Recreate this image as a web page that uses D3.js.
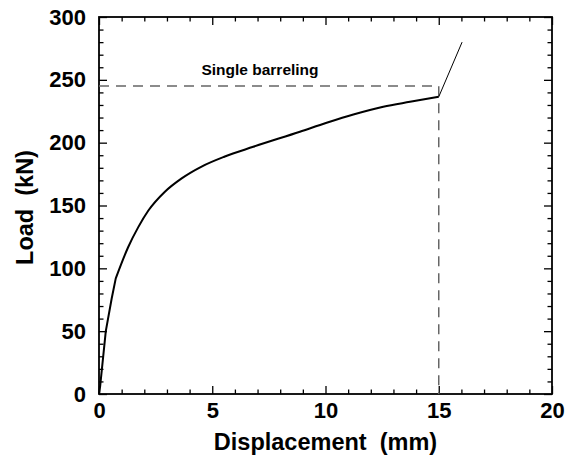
<!DOCTYPE html>
<html>
<head>
<meta charset="utf-8">
<script src="https://cdn.jsdelivr.net/npm/d3@7"></script>
<style>
  body { margin: 0; background: white; }
  text { font-family: "Liberation Sans", Arial, sans-serif; font-weight: bold; fill: black; }
</style>
</head>
<body>
<div id="chart"></div>
<script>
let width = 577, height = 463;

let margin = { top: 17, bottom: 69, left: 99, right: 25 };

// curve (mm, kN)
let displacement = [0, 0.05, 0.3, 0.56, 0.74, 1.29, 1.74, 2.18, 2.91, 3.65, 4.53, 5.53, 6.81, 8.87, 10.05, 11.23, 12.55, 13.73, 15.0];
let load = [0, 6, 50, 76, 92, 117, 133, 146, 161, 171.6, 181, 188.8, 196.7, 208.7, 215.8, 222.4, 228.6, 232.5, 236.5];
let kneeIndex = 4; // elastic part ends here

// steep part after the end of the curve
let tailDisp = [15.0, 16.03];
let tailLoad = [236.5, 280];

// single barreling marker
let markDisp = 15;
let markLoad = 245;
let markLabel = 'Single barreling';

let xTicks = [0, 5, 10, 15, 20];
let yTicks = [0, 50, 100, 150, 200, 250, 300];
let xMinor = d3.range(0, 20.01, 1).filter(d => d % 5 !== 0);
let yMinor = d3.range(0, 300.1, 10).filter(d => d % 50 !== 0);

let svg = d3.select('#chart')
  .append('svg')
  .attr('width', width)
  .attr('height', height)
  .style('background', 'white');

let xscale = d3.scaleLinear()
  .domain([0, 20])
  .range([margin.left, width - margin.right]);

let yscale = d3.scaleLinear()
  .domain([0, 300])
  .range([height - margin.bottom, margin.top]);

let bottom = height - margin.bottom, right = width - margin.right;

// ticks on all four sides, pointing inwards
function styleAxis(g) {
  g.select('.domain').remove();
  g.selectAll('line').attr('stroke', 'black').attr('stroke-width', 1.3);
  g.selectAll('text').style('font-size', '22px').attr('fill', 'black');
}

svg.append('g')
  .attr('transform', `translate(0, ${bottom})`)
  .call(d3.axisBottom(xscale).tickValues(xTicks).tickSize(-8).tickPadding(8).tickFormat(d3.format('d')))
  .call(styleAxis);
svg.append('g')
  .attr('transform', `translate(0, ${bottom})`)
  .call(d3.axisBottom(xscale).tickValues(xMinor).tickSize(-4.5).tickFormat(''))
  .call(styleAxis);
svg.append('g')
  .attr('transform', `translate(0, ${margin.top})`)
  .call(d3.axisTop(xscale).tickValues(xTicks).tickSize(-8).tickFormat(''))
  .call(styleAxis);
svg.append('g')
  .attr('transform', `translate(0, ${margin.top})`)
  .call(d3.axisTop(xscale).tickValues(xMinor).tickSize(-4.5).tickFormat(''))
  .call(styleAxis);

svg.append('g')
  .attr('transform', `translate(${margin.left}, 0)`)
  .call(d3.axisLeft(yscale).tickValues(yTicks).tickSize(-8).tickPadding(13).tickFormat(d3.format('d')))
  .call(styleAxis);
svg.append('g')
  .attr('transform', `translate(${margin.left}, 0)`)
  .call(d3.axisLeft(yscale).tickValues(yMinor).tickSize(-4.5).tickFormat(''))
  .call(styleAxis);
svg.append('g')
  .attr('transform', `translate(${right}, 0)`)
  .call(d3.axisRight(yscale).tickValues(yTicks).tickSize(-8).tickFormat(''))
  .call(styleAxis);
svg.append('g')
  .attr('transform', `translate(${right}, 0)`)
  .call(d3.axisRight(yscale).tickValues(yMinor).tickSize(-4.5).tickFormat(''))
  .call(styleAxis);

// frame
svg.append('rect')
  .attr('x', margin.left)
  .attr('y', margin.top)
  .attr('width', right - margin.left)
  .attr('height', bottom - margin.top)
  .attr('fill', 'none')
  .attr('stroke', 'black')
  .attr('stroke-width', 1.8);

// dashed guide lines
svg.append('path')
  .attr('d', d3.line()([
    [xscale(0), yscale(markLoad)],
    [xscale(markDisp), yscale(markLoad)],
    [xscale(markDisp), yscale(0)]
  ]))
  .attr('fill', 'none')
  .attr('stroke', '#666')
  .attr('stroke-width', 1.5)
  .attr('stroke-dasharray', '10,7');

let line = d3.line()
  .x(d => xscale(d[0]))
  .y(d => yscale(d[1]));

let pts = displacement.map((d, i) => [d, load[i]]);

// elastic rise: straight segments, then the smooth hardening curve
svg.append('path')
  .attr('d', line.curve(d3.curveLinear)(pts.slice(0, kneeIndex + 1)) +
             line.curve(d3.curveMonotoneX)(pts.slice(kneeIndex)).replace(/^M/, 'L'))
  .attr('fill', 'none')
  .attr('stroke', 'black')
  .attr('stroke-width', 2)
  .attr('stroke-linejoin', 'round');

svg.append('path')
  .attr('d', line.curve(d3.curveLinear)(tailDisp.map((d, i) => [d, tailLoad[i]])))
  .attr('fill', 'none')
  .attr('stroke', 'black')
  .attr('stroke-width', 1);

svg.append('text')
  .text(markLabel)
  .attr('x', 260)
  .attr('y', 75)
  .attr('text-anchor', 'middle')
  .style('font-size', '15.5px');

// axis titles
svg.append('text')
  .text('Displacement  (mm)')
  .attr('x', (margin.left + right) / 2)
  .attr('y', 450)
  .attr('text-anchor', 'middle')
  .style('white-space', 'pre')
  .style('font-size', '23.5px');

svg.append('text')
  .text('Load  (kN)')
  .attr('x', -207.5)
  .attr('y', 33)
  .attr('transform', 'rotate(-90)')
  .attr('text-anchor', 'middle')
  .style('white-space', 'pre')
  .style('font-size', '23.5px');
</script>
</body>
</html>
